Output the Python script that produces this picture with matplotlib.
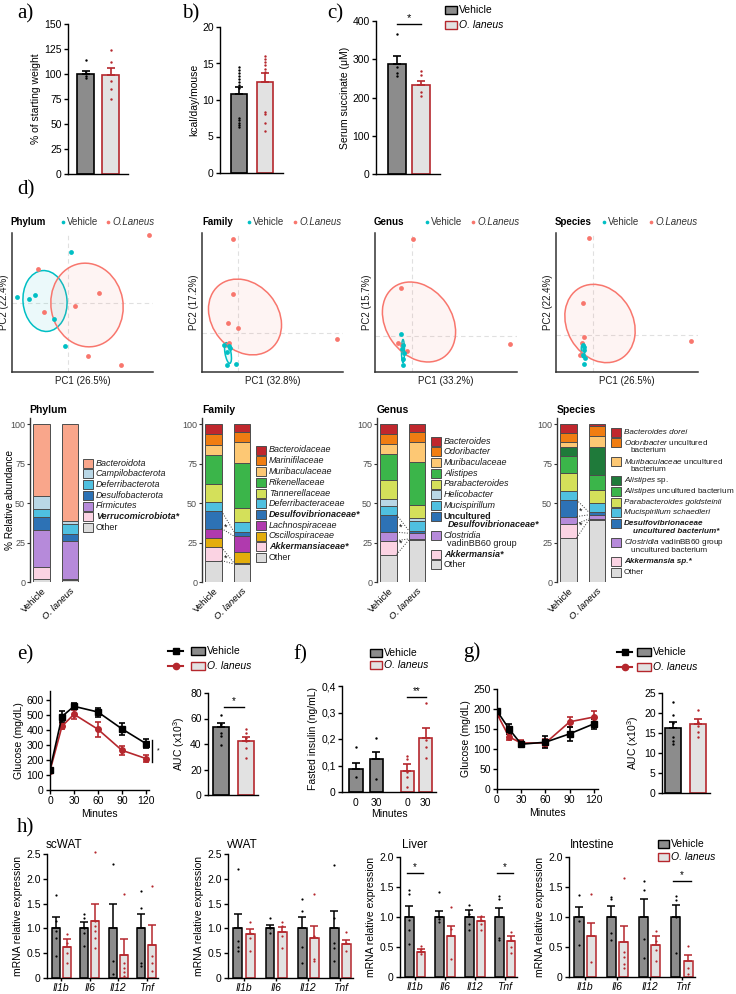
import numpy as np
import matplotlib
matplotlib.use("Agg")
import matplotlib.pyplot as plt
from matplotlib.patches import Ellipse, Rectangle
from matplotlib.lines import Line2D

plt.rcParams.update({
    'font.family': ['Liberation Sans', 'DejaVu Sans'],
    'mathtext.fontset': 'custom',
    'mathtext.rm': 'Liberation Sans',
    'mathtext.it': 'Liberation Sans:italic',
    'mathtext.bf': 'Liberation Sans:bold',
    'axes.linewidth': 1.0,
})

W, H = 736, 994

# ---------------- data: panels a-c ----------------
weight_mean = [100.5, 99.0]
weight_sem = [2.5, 7.0]
weight_pts = [[114, 101, 98, 96], [124, 112, 93, 85, 75]]
kcal_mean = [10.8, 12.5]
kcal_sem = [1.0, 1.2]
kcal_pts = [[14.5, 14.1, 13.7, 13.3, 12.9, 12.5, 12.1, 11.7, 7.5, 7.2, 6.9, 6.6, 6.3],
            [16.0, 15.6, 15.2, 14.8, 14.2, 13.8, 8.3, 8.1, 6.9, 5.7]]
succ_mean = [287, 232]
succ_sem = [21, 11]
succ_pts = [[365, 280, 265, 255], [270, 258, 215, 205]]

# ---------------- data: panel d PCA ----------------
phy_veh = [(0.3, 5.1), (-5.1, 0.6), (-3.9, 0.4), (-3.3, 0.8), (-1.4, -1.6), (-0.3, -4.3)]
phy_ola = [(8.1, 6.8), (-3.0, 3.4), (3.1, 1.0), (0.7, -0.3), (-2.4, -0.9), (2.0, -5.3), (5.3, -6.2)]
fam_veh = [(-1.4, -1.2), (-0.9, -1.3), (-1.1, -1.9), (-1.1, -3.2), (-0.2, -3.1), (-0.8, -1.5)]
fam_ola = [(-0.5, 9.4), (-0.5, 3.9), (-1.0, 1.0), (0.0, 0.5), (9.9, -0.6), (-1.3, -1.2), (-0.9, -1.0)]
gen_veh = [(-1.1, 0.2), (-0.9, -0.9), (-0.8, -1.7), (-0.9, -2.3), (-0.9, -2.9), (-1.0, -1.3)]
gen_ola = [(0.1, 9.7), (-1.1, 4.8), (9.8, -0.8), (-1.4, -0.7), (-0.5, -1.5), (-1.0, -0.9)]
spe_veh = [(-1.0, -1.0), (-0.9, -1.5), (-1.0, -2.0), (-0.8, -2.3), (-0.9, -2.9), (-0.9, -1.2)]
spe_ola = [(-0.4, 9.7), (-1.0, 3.2), (9.8, -0.6), (-0.9, -0.2), (-1.1, -0.8), (-1.3, -2.0)]
# ellipses: (cx, cy, width, height, angle)
phy_ell = [(-2.3, 0.2, 4.4, 6.1, 5), (1.9, -0.2, 7.2, 8.4, 10)]
fam_ell = [(-1.0, -2.0, 0.6, 2.1, 10), (0.7, 1.6, 6.6, 8.2, 40)]
gen_ell = [(-0.9, -1.5, 0.3, 2.3, 0), (0.7, 1.4, 6.6, 8.6, 35)]
spe_ell = [(-1.0, -1.5, 0.35, 1.5, 0), (0.7, 1.15, 6.6, 8.2, 30)]
pc_labels = [("PC1 (26.5%)", "PC2 (22.4%)"), ("PC1 (32.8%)", "PC2 (17.2%)"),
             ("PC1 (33.2%)", "PC2 (15.7%)"), ("PC1 (26.5%)", "PC2 (22.4%)")]

# ---------------- data: panel d stacked bars (top -> bottom) ----------------
phylum_taxa = ['Bacteroidota', 'Campilobacterota', 'Deferribacterota', 'Desulfobacterota',
               'Firmicutes', 'Verrucomicrobiota*', 'Other']
phylum_veh = [45.5, 8.0, 5.0, 8.5, 23.5, 7.5, 2.0]
phylum_ola = [61.5, 1.5, 6.5, 4.5, 24.0, 1.0, 1.0]

family_taxa = ['Bacteroidaceae', 'Marinifilaceae', 'Muribaculaceae', 'Rikenellaceae', 'Tannerellaceae',
               'Deferribacteraceae', 'Desulfovibrionaceae*', 'Lachnospiraceae', 'Oscillospiraceae',
               'Akkermansiaceae*', 'Other']
family_veh = [6.4, 6.5, 6.4, 18.4, 11.7, 5.7, 11.0, 5.9, 6.0, 8.4, 13.6]
family_ola = [4.9, 6.3, 13.2, 28.8, 8.5, 6.3, 2.8, 9.9, 7.2, 0.7, 11.4]

genus_taxa = ['Bacteroides', 'Odoribacter', 'Muribaculaceae', 'Alistipes', 'Parabacteroides',
              'Helicobacter', 'Mucispirillum', 'Uncultured Desulfovibrionaceae*',
              'Clostridia vadinBB60 group', 'Akkermansia*', 'Other']
genus_veh = [5.9, 6.4, 6.8, 16.5, 11.6, 4.3, 5.9, 11.0, 5.3, 8.9, 17.4]
genus_ola = [4.9, 6.3, 12.7, 27.1, 8.5, 1.5, 6.4, 1.7, 3.6, 0.6, 26.7]

species_taxa = ['Bacteroides dorei', 'Odoribacter uncultured bacterium', 'Muribaculaceae uncultured bacterium',
                'Alistipes sp.', 'Alistipes uncultured bacterium', 'Parabacteroides goldsteinii',
                'Mucispirillum schaedleri', 'Desulfovibrionaceae uncultured bacterium*',
                'Clostridia vadinBB60 group uncultured bacterium', 'Akkermansia sp.*', 'Other']
species_veh = [5.5, 5.7, 3.2, 5.9, 10.6, 11.5, 5.5, 10.6, 4.6, 8.9, 28.0]
species_ola = [1.1, 6.3, 7.0, 18.0, 9.1, 8.3, 5.9, 1.7, 2.6, 0.6, 39.4]

# ---------------- data: panels e-g ----------------
minutes = [0, 15, 30, 60, 90, 120]
ogtt_veh = [135, 490, 558, 520, 408, 310]
ogtt_veh_sem = [10, 35, 20, 30, 40, 30]
ogtt_ola = [128, 425, 505, 405, 265, 210]
ogtt_ola_sem = [10, 20, 30, 50, 30, 25]
ogtt_auc_mean = [53.5, 42.0]
ogtt_auc_sem = [3.0, 3.5]
ogtt_auc_pts = [[63, 56, 54, 49, 46, 39], [52, 49, 45, 42, 37, 29]]

insulin_labels = ['0', '30', '0', '30']
insulin_mean = [0.085, 0.125, 0.08, 0.205]
insulin_sem = [0.025, 0.027, 0.025, 0.035]
insulin_pts = [[0.17, 0.057], [0.204, 0.049], [0.136, 0.125, 0.075, 0.057, 0.02], [0.335, 0.196, 0.17, 0.13]]

itt_veh = [195, 150, 112, 117, 138, 163]
itt_veh_sem = [6, 12, 8, 15, 18, 12]
itt_ola = [188, 130, 115, 115, 168, 180]
itt_ola_sem = [8, 8, 8, 10, 12, 15]
itt_auc_mean = [16.3, 17.3]
itt_auc_sem = [1.5, 1.1]
itt_auc_pts = [[22.8, 19.5, 17.5, 14.0, 13.0, 12.3], [20.8, 17.8, 16.8, 15.3, 14.0]]

# ---------------- data: panel h ----------------
genes = ['Il1b', 'Il6', 'Il12', 'Tnf']
scwat_veh_mean = [1.0, 1.0, 1.0, 1.0]
scwat_veh_sem = [0.22, 0.12, 0.50, 0.30]
scwat_ola_mean = [0.63, 1.15, 0.46, 0.67]
scwat_ola_sem = [0.16, 0.35, 0.32, 0.40]
scwat_veh_pts = [[1.68, 1.15, 0.95, 0.8, 0.45], [1.3, 1.2, 1.0, 0.9, 0.65], [2.3, 0.35, 0.08], [1.75, 1.42, 0.3, 0.25]]
scwat_ola_pts = [[0.88, 0.7, 0.5, 0.3], [2.55, 1.15, 1.05, 0.95, 0.8, 0.6], [1.7, 0.3, 0.2, 0.12, 0.05], [1.85, 0.45, 0.3, 0.15]]

vwat_veh_mean = [1.0, 1.0, 1.0, 1.0]
vwat_veh_sem = [0.30, 0.07, 0.23, 0.35]
vwat_ola_mean = [0.88, 0.93, 0.80, 0.68]
vwat_ola_sem = [0.10, 0.10, 0.25, 0.09]
vwat_veh_pts = [[2.2, 0.75, 0.63, 0.55], [1.2, 1.0, 0.9], [1.6, 1.35, 0.62, 0.3], [2.28, 1.2, 0.7, 0.6, 0.35]]
vwat_ola_pts = [[1.12, 0.9, 0.8, 0.55], [1.12, 1.05, 0.85, 0.6], [1.7, 0.85, 0.38, 0.35], [0.93, 0.7, 0.55]]

liver_veh_mean = [1.0, 1.0, 1.0, 1.0]
liver_veh_sem = [0.18, 0.10, 0.12, 0.15]
liver_ola_mean = [0.42, 0.69, 0.93, 0.60]
liver_ola_sem = [0.05, 0.16, 0.07, 0.08]
liver_veh_pts = [[1.45, 1.38, 0.95, 0.78, 0.55], [1.42, 1.0, 0.97, 0.92], [1.2, 1.05, 0.88, 0.78], [1.35, 1.3, 0.65, 0.62]]
liver_ola_pts = [[0.52, 0.47, 0.42, 0.38], [1.17, 0.8, 0.3], [1.02, 0.95, 0.88, 0.78], [0.75, 0.62, 0.5, 0.4]]

intest_veh_mean = [1.0, 1.0, 1.0, 1.0]
intest_veh_sem = [0.17, 0.18, 0.30, 0.20]
intest_ola_mean = [0.68, 0.58, 0.54, 0.26]
intest_ola_sem = [0.22, 0.27, 0.14, 0.10]
intest_veh_pts = [[1.37, 0.93, 0.53], [1.33, 1.3, 0.73, 0.62], [1.6, 1.45, 0.63, 0.32], [1.35, 1.28, 1.0, 0.4]]
intest_ola_pts = [[1.38, 0.25], [1.65, 0.42, 0.33, 0.22, 0.15], [0.77, 0.6, 0.45, 0.27], [0.52, 0.15, 0.05]]

# ---------------- colours ----------------
GREY = '#8c8c8c'
LIGHT = '#e2e2e2'
RED = '#b5272d'
CYAN = '#00bfc4'
SALMON_PT = '#f8766d'

phylum_cols = ['#f9a68b', '#b9d7e6', '#4fc0e0', '#2d72b5', '#b68ada', '#fbd3e3', '#dcdcdc']
family_cols = ['#c0272d', '#f07d12', '#fdc874', '#3bb54a', '#d4e05a', '#4fc0e0', '#2d72b5',
               '#b03aae', '#e3ad0c', '#fbd3e3', '#dcdcdc']
genus_cols = ['#c0272d', '#f07d12', '#fdc874', '#3bb54a', '#d4e05a', '#b9d7e6', '#4fc0e0', '#2d72b5',
              '#b68ada', '#fbd3e3', '#dcdcdc']
species_cols = ['#c0272d', '#f07d12', '#fdc874', '#1f7a3a', '#3bb54a', '#d4e05a', '#4fc0e0', '#2d72b5',
                '#b68ada', '#fbd3e3', '#dcdcdc']

fig = plt.figure(figsize=(W / 100, H / 100), dpi=100)


def px_axes(x0, y0, x1, y1):
    return fig.add_axes([x0 / W, 1 - y1 / H, (x1 - x0) / W, (y1 - y0) / H])


def prism(ax, fs=7.5):
    ax.spines[['top', 'right']].set_visible(False)
    ax.tick_params(direction='out', length=3, width=1, labelsize=fs, pad=1.5)
    ax.patch.set_alpha(0)


def dot_bars(ax, xs, means, sems, pts, width, faces, edges, lw=1.2, s=3):
    for x, m, e, p, fc, ec in zip(xs, means, sems, pts, faces, edges):
        ax.bar(x, m, width=width, color=fc, edgecolor=ec, linewidth=lw, zorder=2)
        ax.errorbar(x, m, yerr=[[0], [e]], color=ec, capsize=3, elinewidth=lw, capthick=lw, zorder=3)
        ax.scatter(np.full(len(p), x), p, s=s, color=ec, linewidths=0, zorder=4, clip_on=False)


# ---------------- a, b, c ----------------
ax_a = px_axes(68, 24, 128, 174)
prism(ax_a)
dot_bars(ax_a, [0, 1], weight_mean, weight_sem, weight_pts, 0.68, [GREY, LIGHT], ['black', RED])
ax_a.set_xlim(-0.7, 1.7)
ax_a.set_ylim(0, 150)
ax_a.set_yticks([0, 25, 50, 75, 100, 125, 150])
ax_a.set_xticks([])
ax_a.set_ylabel('% of starting weight', fontsize=7.5, labelpad=2)

ax_b = px_axes(220, 27, 283, 173)
prism(ax_b)
dot_bars(ax_b, [0, 1], kcal_mean, kcal_sem, kcal_pts, 0.62, [GREY, LIGHT], ['black', RED])
ax_b.set_xlim(-0.73, 1.7)
ax_b.set_ylim(0, 20)
ax_b.set_yticks([0, 5, 10, 15, 20])
ax_b.set_xticks([])
ax_b.set_ylabel('kcal/day/mouse', fontsize=7.5, labelpad=2)

ax_c = px_axes(376, 21, 440, 174)
prism(ax_c)
dot_bars(ax_c, [0, 1], succ_mean, succ_sem, succ_pts, 0.75, [GREY, LIGHT], ['black', RED])
ax_c.set_xlim(-0.87, 1.8)
ax_c.set_ylim(0, 400)
ax_c.set_yticks([0, 100, 200, 300, 400])
ax_c.set_xticks([])
ax_c.set_ylabel('Serum succinate (\u03bcM)', fontsize=7.5, labelpad=2)
ax_c.plot([0, 1], [392, 392], color='black', lw=1, clip_on=False)
ax_c.text(0.5, 394, '*', ha='center', va='bottom', fontsize=8)

# ---------------- d: PCA ----------------
pca_boxes = [(12, 153), (202, 343), (375, 517), (556, 698)]
pca_sets = [(phy_veh, phy_ola, phy_ell, (-5.6, 8.5), (-6.9, 7.0)),
            (fam_veh, fam_ola, fam_ell, (-3.6, 10.5), (-3.9, 10.0)),
            (gen_veh, gen_ola, gen_ell, (-3.7, 10.5), (-3.6, 10.3)),
            (spe_veh, spe_ola, spe_ell, (-3.7, 10.5), (-3.7, 10.2))]
for (x0, x1), (veh, ola, ells, xl, yl), (lx, ly) in zip(pca_boxes, pca_sets, pc_labels):
    ax = px_axes(x0, 233, x1, 372)
    ax.spines[['top', 'right']].set_visible(False)
    for sp in ('left', 'bottom'):
        ax.spines[sp].set_color('#333333')
        ax.spines[sp].set_linewidth(1.1)
    ax.axvline(0, color='#e0e0e0', ls=(0, (4, 3)), lw=0.8, zorder=0)
    ax.axhline(0, color='#e0e0e0', ls=(0, (4, 3)), lw=0.8, zorder=0)
    for (cx, cy, ew, eh, ang), col in zip(ells, [CYAN, SALMON_PT]):
        ax.add_patch(Ellipse((cx, cy), ew, eh, angle=ang, facecolor=col, alpha=0.08, edgecolor='none'))
        ax.add_patch(Ellipse((cx, cy), ew, eh, angle=ang, fill=False, edgecolor=col, lw=1.1))
    vx, vy = zip(*veh)
    ox, oy = zip(*ola)
    ax.scatter(ox, oy, s=12, color=SALMON_PT, linewidths=0, zorder=3)
    ax.scatter(vx, vy, s=12, color=CYAN, linewidths=0, zorder=3)
    ax.set_xlim(*xl)
    ax.set_ylim(*yl)
    ax.set_xticks([])
    ax.set_yticks([])
    ax.set_xlabel(lx, fontsize=7, labelpad=3, color='#1a1a1a')
    ax.set_ylabel(ly, fontsize=7, labelpad=2, color='#1a1a1a')

# ---------------- d: stacked bars ----------------
stack_boxes = [(30, 80), (202, 252), (377, 427), (557, 607)]
stack_sets = [(phylum_veh, phylum_ola, phylum_cols, []),
              (family_veh, family_ola, family_cols, [6, 9]),
              (genus_veh, genus_ola, genus_cols, [7, 9]),
              (species_veh, species_ola, species_cols, [7, 9])]
bw = 0.57
for i, ((x0, x1), (veh, ola, cols, links)) in enumerate(zip(stack_boxes, stack_sets)):
    ax = px_axes(x0, 418, x1, 582)
    cum = {}
    for xi, vals in enumerate([veh, ola]):
        bottom = 0.0
        lo_hi = {}
        for k in range(len(vals) - 1, -1, -1):
            ax.bar(xi, vals[k], bottom=bottom, width=bw, color=cols[k], edgecolor='#4d4d4d', linewidth=0.7)
            lo_hi[k] = (bottom, bottom + vals[k])
            bottom += vals[k]
        cum[xi] = lo_hi
    for k in links:
        a_lo, a_hi = cum[0][k]
        b_lo, b_hi = cum[1][k]
        for ya, yb in ((a_lo, b_lo), (a_hi, b_hi)):
            ax.plot([bw / 2, 1 - bw / 2], [ya, yb], ls=':', color='#333333', lw=0.7)
        ax.text(0.41, (a_lo + a_hi + b_lo + b_hi) / 4, '*', ha='center', va='center', fontsize=6.5)
    ax.set_xlim(-0.4, 1.35)
    ax.set_ylim(0, 104)
    ax.set_yticks([0, 25, 50, 75, 100])
    ax.spines[['top', 'right', 'bottom']].set_visible(False)
    ax.spines['left'].set_color('#333333')
    ax.tick_params(axis='y', length=2.5, width=0.8, colors='#333333', labelsize=6.5, labelcolor='#4d4d4d', pad=1)
    ax.set_xticks([0, 1])
    ax.set_xticklabels(['Vehicle', 'O. laneus'], rotation=45, ha='right', rotation_mode='anchor', fontsize=6.8)
    ax.get_xticklabels()[1].set_fontstyle('italic')
    ax.tick_params(axis='x', length=0, pad=3)
    ax.patch.set_alpha(0)
    if i == 0:
        ax.set_ylabel('% Relative abundance', fontsize=7.2)
        ax.yaxis.set_label_coords(-0.29, 0.5)

# ---------------- e ----------------
ax_e = px_axes(50, 691, 149, 790)
prism(ax_e)
ax_e.errorbar(minutes, ogtt_ola, yerr=ogtt_ola_sem, color=RED, marker='o', ms=4, lw=1.2, capsize=2.5, capthick=1.2)
ax_e.errorbar(minutes, ogtt_veh, yerr=ogtt_veh_sem, color='black', marker='s', ms=4, lw=1.2, capsize=2.5, capthick=1.2)
ax_e.set_xlim(0, 124)
ax_e.set_ylim(0, 660)
ax_e.set_xticks([0, 30, 60, 90, 120])
ax_e.set_yticks([0, 100, 200, 300, 400, 500, 600])
ax_e.set_xlabel('Minutes', fontsize=7.5, labelpad=2)
ax_e.set_ylabel('Glucose (mg/dL)', fontsize=7.5, labelpad=2)
ax_e.plot([128, 128], [ogtt_ola[-1] - 23, ogtt_veh[-1] + 23], color='black', lw=1, clip_on=False)
ax_e.text(134, (ogtt_ola[-1] + ogtt_veh[-1]) / 2, '*', fontsize=5, va='center', clip_on=False)

ax_ea = px_axes(208, 693, 258, 795)
prism(ax_ea)
dot_bars(ax_ea, [0, 1], ogtt_auc_mean, ogtt_auc_sem, ogtt_auc_pts, 0.64, [GREY, LIGHT], ['black', RED])
ax_ea.set_xlim(-0.52, 1.48)
ax_ea.set_ylim(0, 80)
ax_ea.set_yticks([0, 20, 40, 60, 80])
ax_ea.set_xticks([])
ax_ea.set_ylabel('AUC (x10$^3$)', fontsize=7.5, labelpad=2)
ax_ea.plot([0.12, 0.92], [69, 69], color='black', lw=1)
ax_ea.text(0.52, 70, '*', ha='center', va='bottom', fontsize=7)

# ---------------- f ----------------
ax_f = px_axes(342, 686, 436, 792)
prism(ax_f)
fpos = [0, 1, 2.5, 3.4]
dot_bars(ax_f, fpos, insulin_mean, insulin_sem, insulin_pts, 0.65,
         [GREY, GREY, LIGHT, LIGHT], ['black', 'black', RED, RED])
ax_f.set_xlim(-0.68, 3.9)
ax_f.set_ylim(0, 0.4)
ax_f.set_yticks([0, 0.1, 0.2, 0.3, 0.4])
ax_f.set_yticklabels(['0', '0,1', '0,2', '0,3', '0,4'])
ax_f.set_xticks(fpos)
ax_f.set_xticklabels(insulin_labels)
ax_f.tick_params(axis='x', length=0, pad=4)
ax_f.set_xlabel('Minutes', fontsize=7.5, labelpad=1)
ax_f.set_ylabel('Fasted insulin (ng/mL)', fontsize=7.5, labelpad=2)
ax_f.plot([2.5, 3.4], [0.358, 0.358], color='black', lw=1)
ax_f.text(2.95, 0.362, '**', ha='center', va='bottom', fontsize=7)

# ---------------- g ----------------
ax_g = px_axes(497, 689, 598, 789)
prism(ax_g)
ax_g.errorbar(minutes, itt_ola, yerr=itt_ola_sem, color=RED, marker='o', ms=4, lw=1.2, capsize=2.5, capthick=1.2)
ax_g.errorbar(minutes, itt_veh, yerr=itt_veh_sem, color='black', marker='s', ms=4, lw=1.2, capsize=2.5, capthick=1.2)
ax_g.set_xlim(0, 125)
ax_g.set_ylim(0, 250)
ax_g.set_xticks([0, 30, 60, 90, 120])
ax_g.set_yticks([0, 50, 100, 150, 200, 250])
ax_g.set_xlabel('Minutes', fontsize=7.5, labelpad=2)
ax_g.set_ylabel('Glucose (mg/dL)', fontsize=7.5, labelpad=2)

ax_ga = px_axes(662, 693, 710, 793)
prism(ax_ga)
dot_bars(ax_ga, [0, 1], itt_auc_mean, itt_auc_sem, itt_auc_pts, 0.64, [GREY, LIGHT], ['black', RED])
ax_ga.set_xlim(-0.44, 1.48)
ax_ga.set_ylim(0, 25)
ax_ga.set_yticks([0, 5, 10, 15, 20, 25])
ax_ga.set_xticks([])
ax_ga.set_ylabel('AUC (x10$^3$)', fontsize=7.5, labelpad=2)

# ---------------- h ----------------
h_sets = [
    ((47, 854, 158, 978), 2.5, scwat_veh_mean, scwat_veh_sem, scwat_veh_pts, scwat_ola_mean, scwat_ola_sem, scwat_ola_pts, []),
    ((228, 854, 353, 978), 2.5, vwat_veh_mean, vwat_veh_sem, vwat_veh_pts, vwat_ola_mean, vwat_ola_sem, vwat_ola_pts, []),
    ((400, 857, 517, 977), 2.0, liver_veh_mean, liver_veh_sem, liver_veh_pts, liver_ola_mean, liver_ola_sem, liver_ola_pts, [(0, 1.73), (3, 1.73)]),
    ((569, 857, 695, 977), 2.0, intest_veh_mean, intest_veh_sem, intest_veh_pts, intest_ola_mean, intest_ola_sem, intest_ola_pts, [(3, 1.6)]),
]
off, hw = 0.19, 0.28
for (x0, y0, x1, y1), ymax, vm, vs, vp, om, os_, op, stars in h_sets:
    ax = px_axes(x0, y0, x1, y1)
    prism(ax)
    g = np.arange(len(genes))
    dot_bars(ax, g - off, vm, vs, vp, hw, [GREY] * 4, ['black'] * 4, lw=1.1, s=2.5)
    dot_bars(ax, g + off, om, os_, op, hw, [LIGHT] * 4, [RED] * 4, lw=1.1, s=2.5)
    ax.set_xlim(-0.5, 3.4)
    ax.set_ylim(0, ymax)
    ticks = np.arange(0, ymax + 0.01, 0.5)
    ax.set_yticks(ticks)
    ax.set_yticklabels(['0'] + ['%.1f' % t for t in ticks[1:]])
    ax.set_xticks(g)
    ax.set_xticklabels(genes, fontstyle='italic', fontsize=7.5)
    ax.tick_params(axis='x', length=2.5, pad=1)
    ax.set_ylabel('mRNA relative expression', fontsize=7.5, labelpad=2)
    for gi, yv in stars:
        ax.plot([gi - off - 0.08, gi + off + 0.08], [yv, yv], color='black', lw=1)
        ax.text(gi, yv + 0.02, '*', ha='center', va='bottom', fontsize=7)

# ---------------- overlay: panel letters, legends, titles ----------------
ov = fig.add_axes([0, 0, 1, 1], zorder=10)
ov.set_xlim(0, W)
ov.set_ylim(H, 0)
ov.axis('off')
ov.patch.set_alpha(0)

for lab, x, y in [('a)', 17, 14), ('b)', 182, 14), ('c)', 327, 14), ('d)', 17, 190),
                  ('e)', 17, 655), ('f)', 293, 655), ('g)', 463, 652), ('h)', 17, 828)]:
    ov.text(x, y, lab, fontsize=15, family='Liberation Serif', va='center', ha='left')


def leg_box(x, y, fc, ec, w=12, h=8, lw=1.0):
    ov.add_patch(Rectangle((x, y - h / 2), w, h, facecolor=fc, edgecolor=ec, lw=lw))


def group_legend(x, y, dy, fs=7.5, w=12, h=8):
    leg_box(x, y, GREY, 'black', w, h)
    ov.text(x + w + 2, y, 'Vehicle', fontsize=fs, va='center')
    leg_box(x, y + dy, LIGHT, RED, w, h)
    ov.text(x + w + 2, y + dy, 'O. laneus', fontsize=fs, va='center', fontstyle='italic')


group_legend(445, 10, 15)
group_legend(370, 653, 12)
group_legend(658, 844, 13, w=11)

for lx, ly, dy, bx in [(168, 651, 15, 191), (617, 652, 15, 637)]:
    ov.add_line(Line2D([lx, lx + 15], [ly, ly], color='black', lw=1.5))
    ov.plot(lx + 7.5, ly, marker='s', color='black', ms=4.5)
    ov.add_line(Line2D([lx, lx + 15], [ly + dy, ly + dy], color=RED, lw=1.5))
    ov.plot(lx + 7.5, ly + dy, marker='o', color=RED, ms=4.5)
    leg_box(bx, ly, GREY, 'black', 14, 8)
    ov.text(bx + 16, ly, 'Vehicle', fontsize=7.5, va='center')
    leg_box(bx, ly + dy, LIGHT, RED, 14, 8)
    ov.text(bx + 16, ly + dy, 'O. laneus', fontsize=7.5, va='center', fontstyle='italic')

# PCA headers
for title, tx, cx, rx in [('Phylum', 10, 63, 108), ('Family', 202, 249, 295),
                          ('Genus', 374, 427, 473), ('Species', 555, 604, 651)]:
    ov.text(tx, 222, title, fontsize=7, fontweight='bold', va='center')
    ov.scatter([cx], [222], s=7, color=CYAN, linewidths=0)
    ov.text(cx + 4, 222, 'Vehicle', fontsize=7, va='center', color='#333333')
    ov.scatter([rx], [222], s=7, color=SALMON_PT, linewidths=0)
    ov.text(rx + 4, 222, 'O.Laneus', fontsize=7, va='center', fontstyle='italic', color='#333333')

for title, tx in [('Phylum', 29), ('Family', 202), ('Genus', 377), ('Species', 557)]:
    ov.text(tx, 410, title, fontsize=7.5, fontweight='bold', va='center')

for title, tx in [('scWAT', 46), ('vWAT', 227), ('Liver', 402), ('Intestine', 570)]:
    ov.text(tx, 845, title, fontsize=8.5, va='center')

# stacked-bar legends: each entry is a list of (text, style, indent)
phylum_leg = [[(t, 'bi' if t.endswith('*') else ('n' if t == 'Other' else 'i'), 0)] for t in phylum_taxa]
family_leg = [[(t, 'bi' if t.endswith('*') else ('n' if t == 'Other' else 'i'), 0)] for t in family_taxa]
genus_leg = [[('Bacteroides', 'i', 0)], [('Odoribacter', 'i', 0)], [('Muribaculaceae', 'i', 0)],
             [('Alistipes', 'i', 0)], [('Parabacteroides', 'i', 0)], [('Helicobacter', 'i', 0)],
             [('Mucispirillum', 'i', 0)],
             [('Uncultured', 'b', 0), ('Desulfovibrionaceae*', 'bi', 4)],
             [('Clostridia', 'i', 0), ('vadinBB60 group', 'n', 3)],
             [('Akkermansia*', 'bi', 0)], [('Other', 'n', 0)]]
species_leg = [[('Bacteroides dorei', 'i', 0)],
               [(r'$\mathit{Odoribacter}$ uncultured', 'n', 0), ('bacterium', 'n', 7)],
               [(r'$\mathit{Muribaculaceae}$ uncultured', 'n', 0), ('bacterium', 'n', 7)],
               [(r'$\mathit{Alistipes}$ sp.', 'n', 0)],
               [(r'$\mathit{Alistipes}$ uncultured bacterium', 'n', 0)],
               [('Parabacteroides goldsteinii', 'i', 0)],
               [('Mucispirillum schaedleri', 'i', 0)],
               [('Desulfovibrionaceae', 'bi', 0), ('uncultured bacterium*', 'bi', 9)],
               [(r'$\mathit{Clostridia}$ vadinBB60 group', 'n', 0), ('uncultured bacterium', 'n', 7)],
               [('Akkermansia sp.*', 'bi', 0)], [('Other', 'n', 0)]]

styles = {'n': dict(), 'i': dict(fontstyle='italic'), 'b': dict(fontweight='bold'),
          'bi': dict(fontstyle='italic', fontweight='bold')}


def stack_legend(x, y, entries, cols, fs=6.5, step=10.75, line=8.2):
    for entry, col in zip(entries, cols):
        ov.add_patch(Rectangle((x, y - 4.5), 10, 9, facecolor=col, edgecolor='#4d4d4d', lw=0.7))
        for j, (txt, st, ind) in enumerate(entry):
            ov.text(x + 13 + ind, y + j * line, txt, fontsize=fs, va='center', color='#1a1a1a', **styles[st])
        y += step + line * (len(entry) - 1)


stack_legend(83, 463, phylum_leg, phylum_cols)
stack_legend(256, 450, family_leg, family_cols)
stack_legend(431, 441, genus_leg, genus_cols)
stack_legend(611, 432, species_leg, species_cols, fs=5.9)

fig.savefig('out.png', dpi=100)
